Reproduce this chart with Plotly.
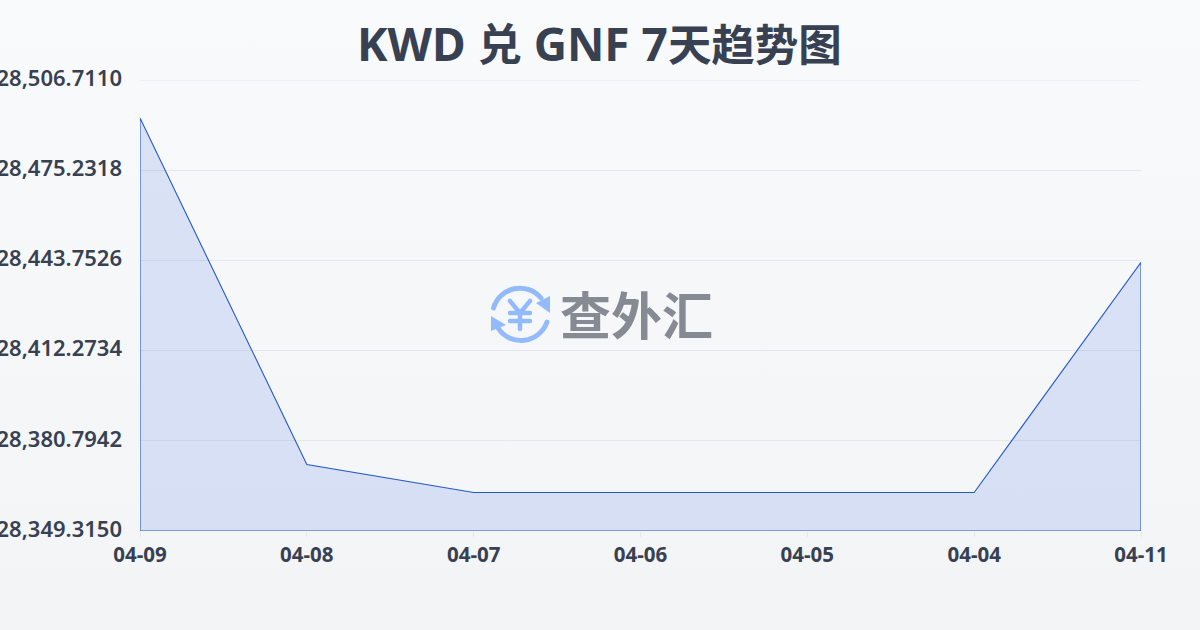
import base64
import plotly.graph_objects as go

categories = ["04-09", "04-08", "04-07", "04-06", "04-05", "04-04", "04-11"]
values = [28493.42, 28372.55, 28362.75, 28362.75, 28362.75, 28362.75, 28443.05]
tick_values = [28349.3150, 28380.7942, 28412.2734, 28443.7526, 28475.2318, 28506.7110]
tick_labels = ["28,349.3150", "28,380.7942", "28,412.2734", "28,443.7526", "28,475.2318", "28,506.7110"]
title_parts = [("KWD ", 46), ("兑", 44), (" GNF 7", 46), ("天趋势图", 43.5)]
logo_text = "查外汇"

INK = "#374151"
LINE = "#2558c8"
FILL = "rgba(50,100,220,0.15)"
GRID = "#e5e7eb"

W, H = 1200, 630
L, R, T, B = 140, 59, 80, 99
PW, PH = W - L - R, H - T - B


def uri(svg):
    return "data:image/svg+xml;base64," + base64.b64encode(svg.encode()).decode()


bg_svg = (
    f'<svg xmlns="http://www.w3.org/2000/svg" width="{W}" height="{H}" viewBox="0 0 {W} {H}">'
    '<defs><linearGradient id="g" x1="0" y1="0" x2="0" y2="1">'
    '<stop offset="0" stop-color="#f9fafc"/><stop offset="1" stop-color="#f3f4f6"/>'
    '</linearGradient></defs>'
    f'<rect width="{W}" height="{H}" fill="url(#g)"/></svg>'
)

logo_svg = (
    f'<svg xmlns="http://www.w3.org/2000/svg" width="{W}" height="{H}" viewBox="0 0 {W} {H}">'
    '<g fill="none" stroke="#93bbfb" stroke-width="5" stroke-linecap="round" stroke-linejoin="round">'
    '<path d="M493.5 308 A27.5 27.5 0 0 1 541 298"/>'
    '<path d="M498 328 A27.5 27.5 0 0 0 547 322"/>'
    '<path d="M510 301 L520 313 L530 301 M520 313 V329 M510 313 H530 M510 321 H530" stroke-width="4.5"/>'
    '</g>'
    '<path d="M550 296 L550 313 L536 303 Z" fill="#93bbfb"/>'
    '<path d="M491 316 L491 331 L506 325 Z" fill="#93bbfb"/>'
    '</svg>'
)


def full_page(svg, layer):
    return dict(
        source=uri(svg), xref="paper", yref="paper",
        x=-L / PW, y=1 + T / PH, sizex=W / PW, sizey=H / PH,
        xanchor="left", yanchor="top", sizing="stretch", layer=layer,
    )


x_closed = categories + [categories[-1], categories[0], categories[0]]
y_closed = values + [tick_values[0], tick_values[0], values[0]]

title_html = "".join(f'<span style="font-size:{s}px">{t}</span>' for t, s in title_parts)

fig = go.Figure(go.Scatter(
    x=x_closed, y=y_closed, mode="lines", fill="toself", fillcolor=FILL,
    line=dict(color=LINE, width=1.1), hoverinfo="skip", showlegend=False,
))

fig.update_layout(
    width=W, height=H,
    margin=dict(l=L, r=R, t=T, b=B, autoexpand=False),
    paper_bgcolor="#f6f7f9", plot_bgcolor="rgba(0,0,0,0)",
    font=dict(family="Noto Sans, Noto Sans CJK SC", color=INK),
    images=[full_page(bg_svg, "below"), full_page(logo_svg, "above")],
    shapes=[dict(type="line", xref="paper", yref="y", x0=0, x1=1,
                 y0=tick_values[-1], y1=tick_values[-1],
                 line=dict(color=GRID, width=1), layer="below")],
    annotations=[
        dict(text=f"<b>{title_html}</b>", xref="paper", yref="paper",
             x=(599 - L) / PW, y=1 + (T - 43) / PH, xanchor="center", yanchor="middle", showarrow=False,
             font=dict(size=46, color=INK, family="Noto Sans, Noto Sans CJK SC")),
        dict(text=f"<b>{logo_text}</b>", xref="paper", yref="paper",
             x=(636 - L) / PW, y=1 - (313 - T) / PH, xanchor="center", yanchor="middle", showarrow=False,
             font=dict(size=51, color="#868a92", family="Noto Sans CJK SC")),
    ],
    xaxis=dict(
        type="category", categoryorder="array", categoryarray=categories,
        range=[0, len(categories) - 1], showgrid=False, zeroline=False, showline=False,
        ticks="outside", ticklen=5, tickwidth=1, tickcolor=GRID,
        tickfont=dict(size=20.5, color=INK, weight="bold"), tickangle=0,
    ),
    yaxis=dict(
        range=[tick_values[0], tick_values[-1]], tickmode="array",
        tickvals=tick_values, ticktext=tick_labels,
        showgrid=True, gridcolor=GRID, gridwidth=1, zeroline=False, showline=False,
        ticks="", ticklabelstandoff=17, ticklabelshift=-2,
        tickfont=dict(size=22, color=INK, weight=600),
    ),
)

fig.write_html("out.html", config=dict(displayModeBar=False),
               post_script="document.body.style.margin='0';document.documentElement.style.overflow='hidden';")
